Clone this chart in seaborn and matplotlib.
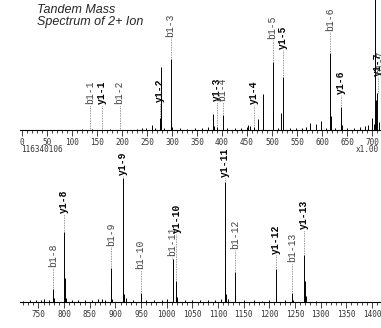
import matplotlib
matplotlib.use("Agg")
import matplotlib.pyplot as plt
import seaborn as sns
import pandas as pd
from matplotlib.ticker import MultipleLocator

# peak list, low mass half (m/z, intensity)
low_mz = [120, 140, 175, 230, 240, 248, 259, 265, 276, 277, 278, 283, 297, 298, 300,
          315, 330, 345, 360, 372, 381, 383, 390, 401, 410, 425, 437, 449, 452, 455,
          464, 472, 481, 482, 501, 502, 511, 517, 521, 522, 535, 548, 560, 568, 576,
          587, 597, 607, 616, 617, 625, 638, 639, 650, 663, 675, 685, 692, 700, 703,
          706, 707, 710, 713]
low_int = [1, 1, 1, 1, 2, 2, 5, 2, 12, 63, 6, 2, 71, 8, 3,
           2, 1, 2, 2, 3, 16, 4, 3, 15, 2, 2, 2, 3, 5, 4,
           3, 11, 36, 8, 68, 17, 2, 17, 53, 12, 2, 2, 2, 3, 7,
           6, 9, 2, 77, 14, 2, 23, 5, 2, 2, 3, 4, 5, 12, 6,
           160, 30, 37, 8]

# peak list, high mass half
high_mz = [720, 733, 745, 755, 761, 770, 779, 780, 800, 801, 803, 815, 828, 840, 855,
           866, 873, 880, 891, 892, 894, 914, 915, 917, 920, 935, 949, 950, 960, 975,
           990, 1000, 1012, 1013, 1019, 1020, 1035, 1050, 1065, 1080, 1095, 1106, 1113,
           1114, 1116, 1120, 1133, 1134, 1150, 1170, 1185, 1200, 1212, 1213, 1230, 1245,
           1246, 1268, 1269, 1271, 1290]
high_int = [1, 2, 2, 2, 3, 2, 13, 4, 70, 24, 4, 2, 2, 2, 2,
            3, 3, 2, 34, 16, 3, 124, 20, 8, 4, 2, 9, 3, 2, 2,
            2, 3, 43, 16, 21, 5, 2, 2, 2, 2, 2, 3, 120,
            31, 8, 3, 30, 6, 2, 2, 1, 2, 33, 7, 2, 9,
            2, 47, 21, 6, 1]

# assigned fragment ions: name, m/z, intensity of assigned peak
low_ions = ["b1-1", "y1-1", "b1-2", "y1-2", "b1-3", "y1-3", "b1-4", "y1-4",
            "b1-5", "y1-5", "b1-6", "y1-6", "y1-7", "b1-7"]
low_ion_mz = [136, 159, 195, 275, 297, 390, 401, 464, 501, 521, 616, 638, 711, 717]
low_ion_int = [0, 0, 0, 12, 71, 3, 15, 3, 68, 53, 77, 23, 37, 0]

high_ions = ["b1-8", "y1-8", "b1-9", "y1-9", "b1-10", "b1-11", "y1-10", "y1-11",
             "b1-12", "y1-12", "b1-13", "y1-13"]
high_ion_mz = [779, 800, 891, 914, 949, 1011, 1019, 1113, 1133, 1212, 1245, 1268]
high_ion_int = [13, 70, 34, 124, 9, 43, 21, 120, 30, 33, 9, 47]

# where the labels sit (height above baseline)
low_lab_y = [25, 25, 25, 27, 92, 28, 28, 25, 90, 80, 98, 35, 53, 55]
high_lab_y = [34, 88, 55, 126, 32, 45, 68, 124, 52, 47, 39, 72]

sns.set_theme(style="white")

fig = plt.figure(figsize=(3.81, 3.28), dpi=100)
ax1 = fig.add_axes([20 / 381, 198 / 328, 361 / 381, 130 / 328])
ax2 = fig.add_axes([20 / 381, 26 / 328, 361 / 381, 130 / 328])


def draw_panel(ax, mz, inten, ions, ion_mz, ion_int, lab_y, xlim, first):
    df = pd.DataFrame({"mz": mz, "intensity": inten})
    ax.vlines(df["mz"], 0, df["intensity"], color="black", lw=0.7)
    for name, x, top, ly in zip(ions, ion_mz, ion_int, lab_y):
        is_y = name.startswith("y")
        ax.plot([x, x], [top, ly], ls=(0, (1, 1)), color="#777777", lw=0.6, clip_on=False)
        ax.text(x, ly + 1, name, rotation=90, ha="center", va="bottom",
                fontsize=7, family="Liberation Mono",
                fontweight="bold" if is_y else "normal",
                color="black" if is_y else "#444444", clip_on=False)
    ax.set_xlim(*xlim)
    ax.set_ylim(0, 130)
    ax.xaxis.set_major_locator(MultipleLocator(50))
    ax.xaxis.set_minor_locator(MultipleLocator(10))
    ax.tick_params(axis="x", which="major", direction="out", length=4, width=0.6,
                   pad=1.5, labelsize=5.5, bottom=True)
    ax.tick_params(axis="x", which="minor", direction="out", length=2, width=0.6, bottom=True)
    for lab in ax.get_xticklabels():
        lab.set_family("DejaVu Sans Mono")
        lab.set_color("#333333")
    ax.set_yticks([])
    sns.despine(ax=ax, left=True, top=True, right=True)
    ax.spines["bottom"].set_color("black")
    ax.spines["bottom"].set_linewidth(0.8)
    ax.set_facecolor("none")


draw_panel(ax1, low_mz, low_int, low_ions, low_ion_mz, low_ion_int, low_lab_y, (-4, 718), True)
draw_panel(ax2, high_mz, high_int, high_ions, high_ion_mz, high_ion_int, high_lab_y, (714, 1417.6), False)

fig.text(37 / 381, 1 - 4 / 328, "Tandem Mass\nSpectrum of 2+ Ion", ha="left", va="top",
         fontsize=9, style="italic", family="Liberation Sans", linespacing=1.05)
fig.text(21 / 381, 1 - 150 / 328, "116340106", ha="left", va="center",
         fontsize=5.5, family="DejaVu Sans Mono", color="#333333")
fig.text(356 / 381, 1 - 150 / 328, "x1.00", ha="left", va="center",
         fontsize=5.5, family="DejaVu Sans Mono", color="#333333")

fig.savefig("out.png", dpi=100)
